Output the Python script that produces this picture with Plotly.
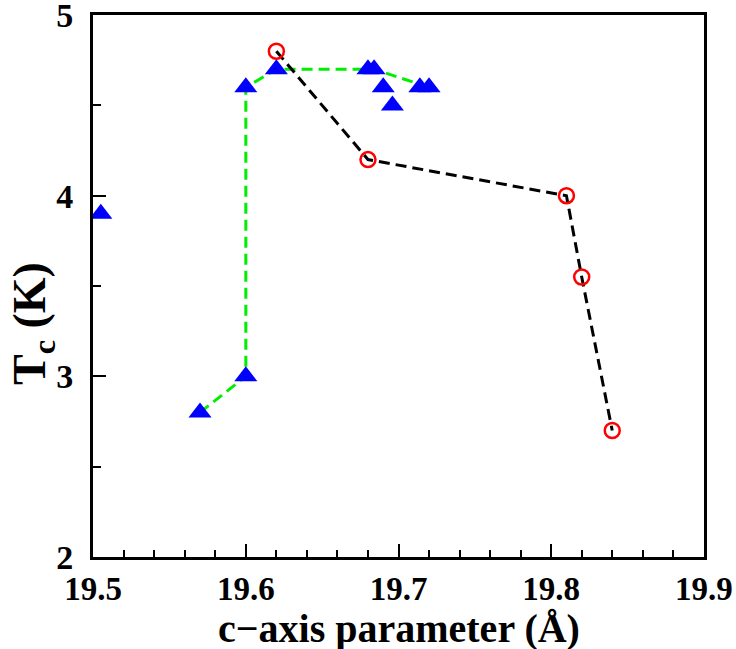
import plotly.graph_objects as go

# Triangles (blue)
tri_x = [19.505, 19.57, 19.6, 19.6, 19.62, 19.68, 19.684, 19.69, 19.696, 19.714, 19.72]
tri_y = [3.9, 2.8, 3.0, 4.6, 4.7, 4.7, 4.7, 4.6, 4.5, 4.6, 4.6]

# Green dashed guide
green_x = [19.57, 19.6, 19.6, 19.62, 19.684, 19.72]
green_y = [2.8, 3.0, 4.6, 4.7, 4.7, 4.6]

# Red circles with black dashed line
circ_x = [19.62, 19.68, 19.81, 19.82, 19.84]
circ_y = [4.8, 4.2, 4.0, 3.55, 2.7]

x_ticks = [19.5, 19.6, 19.7, 19.8, 19.9]
y_ticks = [2, 3, 4, 5]

font_family = "Liberation Serif"

fig = go.Figure()
fig.add_trace(go.Scatter(x=green_x, y=green_y, mode="lines",
                         line=dict(color="#00ee00", width=3, dash="11px,6px"),
                         showlegend=False))
fig.add_trace(go.Scatter(x=tri_x, y=tri_y, mode="markers",
                         marker=dict(symbol="triangle-up", size=20, color="#0000ff",
                                     line=dict(width=0)),
                         showlegend=False))
fig.add_trace(go.Scatter(x=circ_x, y=circ_y, mode="lines",
                         line=dict(color="black", width=3, dash="11px,6px"),
                         showlegend=False))
fig.add_trace(go.Scatter(x=circ_x, y=circ_y, mode="markers",
                         marker=dict(symbol="circle-open", size=15, color="#ff0000",
                                     line=dict(width=2.5, color="#ff0000")),
                         showlegend=False))

axis_common = dict(
    showgrid=False, zeroline=False, showline=True, linecolor="black", linewidth=3,
    mirror=True, ticks="inside", tickcolor="black", tickwidth=2, automargin=False,
    ticklabeloverflow="allow",
)

fig.update_layout(
    width=736, height=649,
    margin=dict(l=93, r=32, t=15, b=92),
    paper_bgcolor="white", plot_bgcolor="white",
    xaxis=dict(range=[19.4999, 19.9001], tickvals=x_ticks, ticktext=[str(v) for v in x_ticks],
               ticklen=13, ticklabelstandoff=0,
               tickfont=dict(family=font_family, size=33, color="black", weight="bold"),
               minor=dict(dtick=0.02, tick0=19.5, ticks="inside", ticklen=7,
                          tickwidth=2, tickcolor="black"),
               **axis_common),
    yaxis=dict(range=[1.9995, 5.0005], tickvals=y_ticks, ticktext=[str(v) for v in y_ticks],
               ticklen=13, ticklabelstandoff=10,
               tickfont=dict(family=font_family, size=34, color="black", weight="bold"),
               minor=dict(dtick=0.5, tick0=2, ticks="inside", ticklen=8,
                          tickwidth=2, tickcolor="black"),
               **axis_common),
    annotations=[
        dict(text="T<sub>c</sub> (K)", textangle=-90, xref="paper", yref="paper",
             x=-0.098, y=0.43, xanchor="center", yanchor="middle", showarrow=False,
             font=dict(family=font_family, size=46, color="black", weight="bold")),
        dict(text="c\u2212axis parameter (\u00c5)", xref="paper", yref="paper",
             x=0.5, y=-0.131, xanchor="center", yanchor="middle", showarrow=False,
             font=dict(family=font_family, size=40, color="black", weight="bold")),
    ],
)

fig.write_html("out.html")
